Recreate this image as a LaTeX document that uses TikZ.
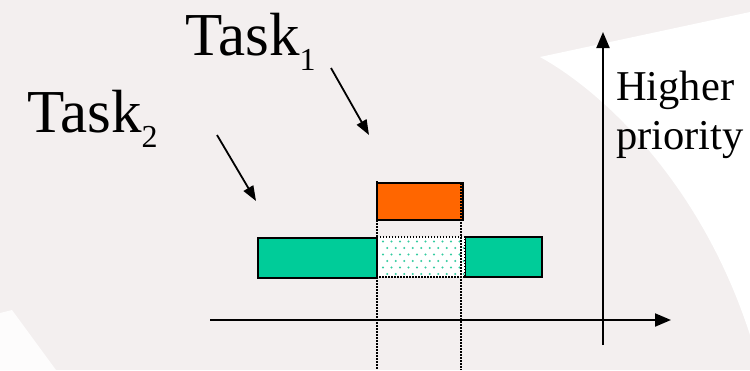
\documentclass[tikz,border=0pt]{standalone}
\usepackage{fontspec}
\setmainfont{Liberation Serif}
\usetikzlibrary{arrows.meta}
\definecolor{paper}{HTML}{F3EFEF}
\definecolor{sweep}{HTML}{FDFCFC}
\definecolor{taskorange}{HTML}{FF6600}
\definecolor{taskgreen}{HTML}{00CC99}
\definecolor{dotgreen}{HTML}{33CCA0}

\begin{document}
\begin{tikzpicture}[x=1pt,y=-1pt,
  bar/.style={draw=black, line width=2pt, inner sep=0pt, outer sep=0pt, anchor=north west},
  guide/.style={line width=1.6pt, dash pattern=on 1.5pt off 1.5pt},
  axis/.style={line width=2pt, -{Triangle[length=16pt,width=13pt]}},
  pointer/.style={line width=1.8pt, -{Triangle[length=15pt,width=11pt]}},
  tasklabel/.style={inner sep=0pt, anchor=base west, font=\fontsize{61}{63}\selectfont},
]
% paper background with a lighter sweep on the right
\fill[paper] (0,0) rectangle (750,370);
\fill[white] (540,57) .. controls (600,90) and (700,180) .. (750,335)
  -- (750,12) -- cycle;
\fill[sweep] (0,313) -- (12,310) -- (56,370) -- (0,370) -- cycle;
\useasboundingbox (0,0) rectangle (750,370);

% task bars
\node[bar, fill=taskorange, minimum width=86pt, minimum height=37pt] (t1) at (377,183) {};
\node[bar, fill=taskgreen, minimum width=119pt, minimum height=40pt] (t2a) at (258,238) {};
\node[bar, fill=taskgreen, minimum width=77pt, minimum height=40pt] (t2b) at (465,237) {};
\node[inner sep=0pt, outer sep=0pt, anchor=north west, fill=white,
      minimum width=88pt, minimum height=40pt] (pre) at (377,237) {};
% preempted part of task 2
\foreach \r in {0,...,5}{
  \pgfmathsetmacro{\yy}{241.5+6.5*\r}
  \pgfmathsetmacro{\off}{mod(\r,2)*4.25}
  \foreach \c in {0,...,9}{
    \fill[dotgreen] (383+\off+8.5*\c,\yy) circle (1.2pt);
  }
}
\draw[guide] (pre.north west) rectangle (pre.south east);

% time marks of the preemption
\coordinate (s0) at (377,181);
\coordinate (s1) at (377,370);
\coordinate (e0) at (461,183);
\coordinate (e1) at (461,370);
\draw[guide] (s0) -- (s1);
\draw[guide] (e0) -- (e1);

% axes
\coordinate (xa) at (210,320);
\coordinate (xb) at (671,320);
\coordinate (ya) at (603,345);
\coordinate (yb) at (603,32);
\draw[axis] (xa) -- (xb);
\draw[axis] (ya) -- (yb);
\node[inner sep=0pt, anchor=base west, align=left,
      font=\fontsize{42.5}{49}\selectfont] (prio) at (616,149) {Higher\\priority};

% labels
\node[tasklabel] (l1) at (185,55) {Task\raisebox{-15pt}{\fontsize{32}{32}\selectfont 1}};
\node[tasklabel] (l2) at (27,132) {Task\raisebox{-15pt}{\fontsize{32}{32}\selectfont 2}};
\coordinate (p1) at (331,68);
\coordinate (q1) at (369,135);
\coordinate (p2) at (217,135);
\coordinate (q2) at (256,201);
\draw[pointer] (p1) -- (q1);
\draw[pointer] (p2) -- (q2);
\end{tikzpicture}
\end{document}
